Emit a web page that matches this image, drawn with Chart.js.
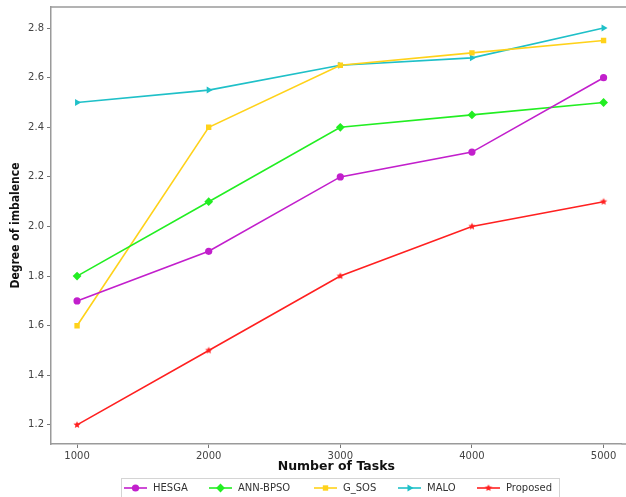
<!DOCTYPE html>
<html>
<head>
<meta charset="utf-8">
<script src="https://cdn.jsdelivr.net/npm/chart.js@4/dist/chart.umd.min.js"></script>
<style>
  html, body { margin: 0; padding: 0; background: #fff; }
  #wrap { width: 626px; height: 497px; }
</style>
</head>
<body>
<div id="wrap"><canvas id="c" width="626" height="497"></canvas></div>
<script>
// Number of tasks on the x axis
const taskCounts = [1000, 2000, 3000, 4000, 5000];

// Degree of imbalance per algorithm
const hesga    = [1.70, 1.90, 2.20, 2.30, 2.60];
const annBpso  = [1.80, 2.10, 2.40, 2.45, 2.50];
const gSos     = [1.60, 2.40, 2.65, 2.70, 2.75];
const malo     = [2.50, 2.55, 2.65, 2.68, 2.80];
const proposed = [1.20, 1.50, 1.80, 2.00, 2.10];

// Axis tick labels
const xTicks = [1000, 2000, 3000, 4000, 5000];
const yTicks = [1.2, 1.4, 1.6, 1.8, 2.0, 2.2, 2.4, 2.6, 2.8];

// Filled five-point star marker
function starImage(color, r) {
  const s = Math.ceil(r * 2 + 2);
  const cv = document.createElement('canvas');
  cv.width = s; cv.height = s;
  const g = cv.getContext('2d');
  g.fillStyle = color;
  g.beginPath();
  for (let i = 0; i < 10; i++) {
    const rad = i % 2 === 0 ? r : r * 0.45;
    const a = -Math.PI / 2 + i * Math.PI / 5;
    const px = s / 2 + rad * Math.cos(a), py = s / 2 + rad * Math.sin(a);
    if (i === 0) g.moveTo(px, py); else g.lineTo(px, py);
  }
  g.closePath();
  g.fill();
  return cv;
}

const series = [
  { label: 'HESGA',    data: hesga,    color: '#c21fcc', style: 'circle',   radius: 3.6, rot: 0 },
  { label: 'ANN-BPSO', data: annBpso,  color: '#22ee22', style: 'rectRot',  radius: 4.4, rot: 0 },
  { label: 'G_SOS',    data: gSos,     color: '#ffd21a', style: 'rect',     radius: 3.8, rot: 0 },
  { label: 'MALO',     data: malo,     color: '#1fc0c8', style: 'triangle', radius: 4.0, rot: 90 },
  { label: 'Proposed', data: proposed, color: '#ff2020', style: starImage('#ff2020', 3.8), radius: 3.5, rot: 0 }
];

const datasets = series.map(s => ({
  label: s.label,
  data: s.data.map((v, i) => ({ x: taskCounts[i], y: v })),
  borderColor: s.color,
  backgroundColor: s.color,
  borderWidth: 1.6,
  pointStyle: s.style,
  pointRadius: s.radius,
  pointRotation: s.rot,
  pointBorderWidth: 0,
  pointBackgroundColor: s.color,
  pointBorderColor: s.color,
  tension: 0
}));

// Legend layout: where each entry's line starts
const legendLineStarts = [124, 209, 314, 398, 477];

// Frame top edge, the axis line run-out to the right, and the boxed legend
const framePlugin = {
  id: 'frameAndLegend',
  afterDraw(chart) {
    const ctx = chart.ctx;
    const a = chart.chartArea;
    ctx.save();
    ctx.strokeStyle = '#9a9a9a';
    ctx.lineWidth = 1.5;
    ctx.beginPath();
    ctx.moveTo(a.left, a.top);
    ctx.lineTo(chart.width, a.top);
    ctx.moveTo(a.right, a.bottom);
    ctx.lineTo(chart.width, a.bottom);
    ctx.stroke();

    // legend
    const lineLen = 23, gapText = 6, cy = 488;
    ctx.strokeStyle = '#d4d4d4';
    ctx.lineWidth = 1;
    ctx.strokeRect(121.5, 478.5, 438, 20);
    ctx.font = '10px "DejaVu Sans", sans-serif';
    series.forEach((s, i) => {
      const x = legendLineStarts[i];
      ctx.strokeStyle = s.color;
      ctx.lineWidth = 1.6;
      ctx.beginPath();
      ctx.moveTo(x, cy);
      ctx.lineTo(x + lineLen, cy);
      ctx.stroke();
      ctx.fillStyle = s.color;
      Chart.helpers.drawPoint(ctx, {
        pointStyle: s.style, radius: s.radius, rotation: s.rot, borderWidth: 0
      }, x + lineLen / 2, cy);
      ctx.fillStyle = '#333';
      ctx.textAlign = 'left';
      ctx.textBaseline = 'middle';
      ctx.fillText(s.label, x + lineLen + gapText, cy + 0.5);
    });
    ctx.restore();
  }
};

new Chart(document.getElementById('c'), {
  type: 'line',
  data: { datasets },
  plugins: [framePlugin],
  options: {
    responsive: false,
    animation: false,
    devicePixelRatio: 1,
    layout: { padding: { top: 7, right: 0, left: 0, bottom: 0 } },
    plugins: {
      legend: { display: false },
      tooltip: { enabled: false }
    },
    scales: {
      x: {
        type: 'linear',
        min: 802,
        max: 5137,
        afterBuildTicks: axis => { axis.ticks = xTicks.map(v => ({ value: v })); },
        afterFit: axis => { axis.height = 53; axis.paddingLeft = 0; axis.paddingRight = 0; },
        grid: { display: true, drawOnChartArea: false, drawTicks: true, tickLength: 4, color: '#777', lineWidth: 1 },
        border: { display: true, color: '#9a9a9a', width: 1.5 },
        ticks: {
          padding: 2,
          color: '#444',
          font: { family: '"DejaVu Sans", sans-serif', size: 10 },
          callback: v => String(v),
          maxRotation: 0
        },
        title: {
          display: true,
          text: 'Number of Tasks',
          color: '#111',
          font: { family: '"DejaVu Sans", sans-serif', size: 12.5, weight: 'bold' },
          padding: { top: 2, bottom: 23 }
        }
      },
      y: {
        min: 1.123,
        max: 2.885,
        afterBuildTicks: axis => { axis.ticks = yTicks.map(v => ({ value: v })); },
        afterFit: axis => { axis.width = 51; axis.paddingTop = 0; axis.paddingBottom = 0; },
        grid: { display: true, drawOnChartArea: false, drawTicks: true, tickLength: 4, color: '#777', lineWidth: 1 },
        border: { display: true, color: '#9a9a9a', width: 1.5 },
        ticks: {
          padding: 3,
          color: '#444',
          font: { family: '"DejaVu Sans", sans-serif', size: 10 },
          callback: v => Number(v).toFixed(1)
        },
        title: {
          display: true,
          text: 'Degree of imbalence',
          color: '#111',
          font: { family: '"DejaVu Sans Condensed", "Liberation Sans Narrow", sans-serif', size: 12, weight: 'bold' },
          padding: { top: 9, bottom: 2 }
        }
      }
    }
  }
});
</script>
</body>
</html>
